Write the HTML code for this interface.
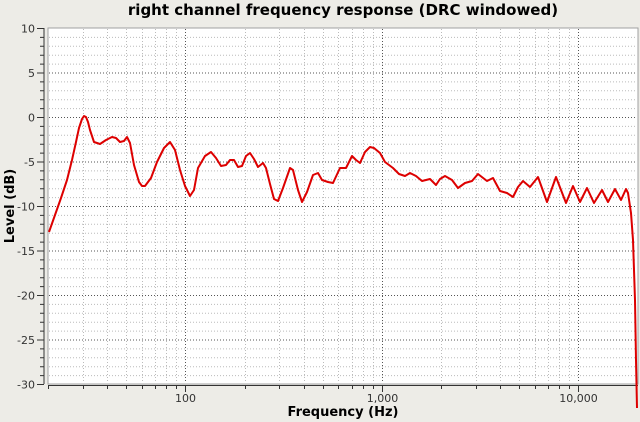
<!DOCTYPE html>
<html><head><style>
body{margin:0;background:#edece7;}
svg{display:block;font-family:"DejaVu Sans","Liberation Sans",sans-serif;}
</style></head><body>
<svg width="640" height="422" viewBox="0 0 640 422" xmlns="http://www.w3.org/2000/svg">
<rect width="640" height="422" fill="#edece7"/>
<rect x="48" y="28" width="590" height="356" fill="#ffffff" stroke="#a0a0a0" stroke-width="1"/>
<path fill="none" stroke="#bbb" stroke-dasharray="1,2" d="M49 37.4H637M49 46.3H637M49 55.2H637M49 64.1H637M49 81.9H637M49 90.8H637M49 99.7H637M49 108.6H637M49 126.4H637M49 135.3H637M49 144.2H637M49 153.1H637M49 170.9H637M49 179.8H637M49 188.7H637M49 197.6H637M49 215.4H637M49 224.3H637M49 233.2H637M49 242.1H637M49 259.9H637M49 268.8H637M49 277.7H637M49 286.6H637M49 304.4H637M49 313.3H637M49 322.2H637M49 331.1H637M49 348.9H637M49 357.8H637M49 366.7H637M49 375.6H637
M83.5 29V383M107.5 29V383M126.5 29V383M142.5 29V383M155.5 29V383M166.5 29V383M176.5 29V383M245.5 29V383M279.5 29V383M304.5 29V383M323.5 29V383M338.5 29V383M352.5 29V383M363.5 29V383M373.5 29V383M441.5 29V383M476.5 29V383M500.5 29V383M519.5 29V383M535.5 29V383M548.5 29V383M559.5 29V383M569.5 29V383"/>
<path fill="none" stroke="#555" stroke-dasharray="1,2" d="M49 73H637M49 117.5H637M49 162H637M49 206.5H637M49 251H637M49 295.5H637M49 340H637M185.5 29V383M382.5 29V383M578.5 29V383"/>
<g stroke="#333" fill="none">
<path d="M44 28V384M48 385.5H638"/>
<path d="M37 28.5H44M37 73H44M37 117.5H44M37 162H44M37 206.5H44M37 251H44M37 295.5H44M37 340H44M37 384.5H44"/>
<path d="M40 37.4H44M40 46.3H44M40 55.2H44M40 64.1H44M40 81.9H44M40 90.8H44M40 99.7H44M40 108.6H44M40 126.4H44M40 135.3H44M40 144.2H44M40 153.1H44M40 170.9H44M40 179.8H44M40 188.7H44M40 197.6H44M40 215.4H44M40 224.3H44M40 233.2H44M40 242.1H44M40 259.9H44M40 268.8H44M40 277.7H44M40 286.6H44M40 304.4H44M40 313.3H44M40 322.2H44M40 331.1H44M40 348.9H44M40 357.8H44M40 366.7H44M40 375.6H44"/>
<path d="M185.5 385V392M382.5 385V392M578.5 385V392M48.5 385V389M83.5 385V389M107.5 385V389M126.5 385V389M142.5 385V389M155.5 385V389M166.5 385V389M176.5 385V389M245.5 385V389M279.5 385V389M304.5 385V389M323.5 385V389M338.5 385V389M352.5 385V389M363.5 385V389M373.5 385V389M441.5 385V389M476.5 385V389M500.5 385V389M519.5 385V389M535.5 385V389M548.5 385V389M559.5 385V389M569.5 385V389"/>
</g>
<g font-size="11" fill="#333" text-anchor="end">
<text x="35" y="32.5">10</text><text x="35" y="77">5</text><text x="35" y="121.5">0</text><text x="35" y="166">-5</text><text x="35" y="210.5">-10</text><text x="35" y="255">-15</text><text x="35" y="299.5">-20</text><text x="35" y="344">-25</text><text x="35" y="388.5">-30</text>
</g>
<g font-size="11" fill="#333" text-anchor="middle">
<text x="185.5" y="402">100</text><text x="382.5" y="402">1,000</text><text x="578.5" y="402">10,000</text>
</g>
<text x="343" y="15" text-anchor="middle" font-size="15" font-weight="bold" fill="#000">right channel frequency response (DRC windowed)</text>
<text x="343" y="416" text-anchor="middle" font-size="13" font-weight="bold" fill="#000">Frequency (Hz)</text>
<text transform="translate(14,206) rotate(-90)" text-anchor="middle" font-size="13" font-weight="bold" fill="#000">Level (dB)</text>
<polyline fill="none" stroke="#dd0000" stroke-width="2" stroke-linejoin="round" points="49,232 55,215 61,198 67,180 72,160 76,142 79,128 82,119 84,116 86,117 88,122 90,130 94,142 100,144 106,140 112,137 116,138 120,142 124,141 127,137 130,143 134,165 139,182 142,186 145,186 151,178 157,162 164,148 170,142 175,150 180,170 185,186 190,196 194,190 198,168 205,156 211,152 216,158 221,166 226,165 230,160 234,160 238,167 242,166 246,156 250,153 254,159 258,167 263,163 266,168 270,184 274,199 278,201 283,188 290,168 293,170 298,190 302,202 307,192 313,175 318,173 322,180 328,182 333,183 340,168 346,168 352,156 356,160 360,163 365,152 370,147 374,148 380,153 385,162 393,168 399,174 405,176 410,173 416,176 422,181 430,179 436,185 440,179 445,176 452,180 458,188 465,183 472,181 478,174 487,181 493,178 500,191 507,193 513,197 518,187 523,181 530,187 538,177 547,202 556,177 566,203 573,186 580,202 587,188 594,203 602,190 608,202 615,189 621,200 626,189 628,193 631,213 633,240 635,300 636,360 637,408"/>
</svg>
</body></html>
